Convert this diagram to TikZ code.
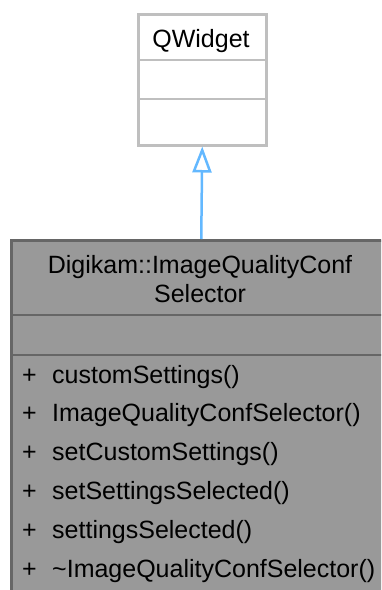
\documentclass[tikz,border=0pt]{standalone}
\usepackage{fontspec}
\setmainfont{Liberation Sans}
\usetikzlibrary{arrows.meta}
\definecolor{edgeblue}{HTML}{63B8FF}
\definecolor{boxgray}{HTML}{999999}
\definecolor{boxline}{HTML}{666666}
\definecolor{lightline}{HTML}{BFBFBF}
\begin{document}
\begin{tikzpicture}[x=1pt,y=-1pt,
  txt/.style={font=\fontsize{25}{30}\selectfont, inner sep=0pt},
  baseclass/.style={draw=lightline, fill=white, line width=2.5pt, inner sep=0pt, anchor=north west},
  mainclass/.style={draw=boxline, fill=boxgray, line width=2.5pt, inner sep=0pt, anchor=north west},
  lightdiv/.style={draw=lightline, line width=2.5pt},
  darkdiv/.style={draw=boxline, line width=2.5pt},
  inherit/.style={draw=edgeblue, line width=2.5pt, -{Triangle[open, length=26pt, width=19pt]}}]
\useasboundingbox (0,0) rectangle (381,590);
\clip (0,0) rectangle (381,590);
% base class
\node[baseclass, minimum width=128pt, minimum height=131pt] (qw) at (137,13) {};
\draw[lightdiv] (137,60) -- (265,60);
\draw[lightdiv] (137,99) -- (265,99);
\node[txt, anchor=base] (qwt) at (201,47) {QWidget};
% main class (runs off the right and bottom edges)
\node[mainclass, minimum width=380pt, minimum height=400pt] (sub) at (10,239) {};
\draw[darkdiv] (10,315) -- (390,315);
\draw[darkdiv] (10,355) -- (390,355);
\node[txt, anchor=base] (t1) at (200,273) {Digikam::ImageQualityConf};
\node[txt, anchor=base] (t2) at (200,302) {Selector};
\foreach \n/\s [count=\i from 0] in {m1/customSettings(), m2/ImageQualityConfSelector(), m3/setCustomSettings(), m4/setSettingsSelected(), m5/settingsSelected(), m6/\textasciitilde ImageQualityConfSelector()} {
  \node[txt, anchor=base west] (p\n) at (22,383+38.9*\i) {+};
  \node[txt, anchor=base west] (\n) at (52,383+38.9*\i) {\s};
}
% inheritance
\draw[inherit] (sub.north) -- (qw.south);
\end{tikzpicture}
\end{document}
